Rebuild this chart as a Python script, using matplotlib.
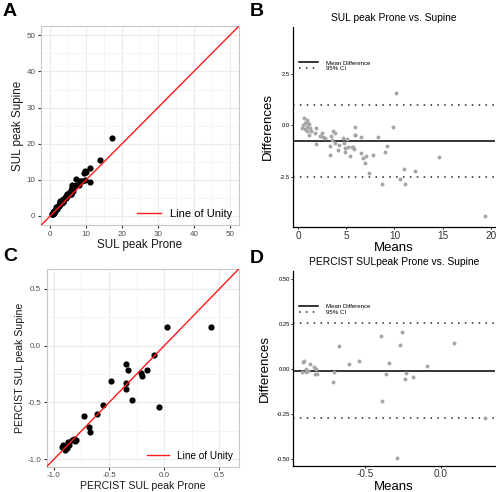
import numpy as np
import matplotlib
matplotlib.use('Agg')
import matplotlib.pyplot as plt
from matplotlib.lines import Line2D

plt.rcParams['font.family'] = ['Liberation Sans', 'DejaVu Sans']
plt.rcParams['axes.unicode_minus'] = False

# panel A - SUL peak, prone vs supine
sul_prone = [0.79, 0.53, 0.74, 0.84, 1.10, 0.38, 0.66, 0.84, 1.14, 1.14, 1.17, 1.03, 0.95,
             1.83, 1.55, 1.98, 1.45, 2.30, 2.31, 2.46, 2.80, 3.12, 3.18, 3.50, 3.64, 3.38,
             2.60, 3.54, 3.74, 4.36, 4.35, 4.29, 4.26, 4.76, 4.68, 4.63, 5.03, 5.21, 5.66,
             5.90, 5.24, 5.71, 6.29, 5.90, 5.96, 6.08, 6.36, 6.18, 7.10, 8.01, 7.26, 8.37,
             8.71, 9.79, 10.95, 9.25, 9.94, 9.61, 10.98, 13.90, 17.21]
sul_supine = [0.45, 0.51, 0.64, 0.90, 0.97, 0.52, 0.86, 1.10, 1.28, 1.08, 1.45, 0.77, 1.40,
              1.97, 1.91, 2.52, 2.35, 2.68, 2.89, 3.08, 3.79, 3.66, 3.89, 3.76, 3.99, 4.25,
              4.04, 4.76, 4.70, 4.98, 5.22, 5.39, 5.57, 5.43, 5.71, 6.10, 6.06, 6.27, 6.11,
              6.00, 6.39, 6.19, 6.85, 7.25, 7.55, 7.91, 7.83, 8.50, 8.54, 8.59, 10.13, 9.64,
              9.69, 9.87, 9.40, 11.85, 12.06, 12.48, 13.19, 15.44, 21.62]

# panel B - Bland-Altman for SUL peak
sul_means = [0.62, 0.52, 0.69, 0.87, 1.04, 0.45, 0.76, 0.97, 1.21, 1.11, 1.31, 0.90, 1.18,
             1.90, 1.73, 2.25, 1.90, 2.49, 2.60, 2.77, 3.29, 3.39, 3.53, 3.63, 3.81, 3.81,
             3.32, 4.15, 4.22, 4.67, 4.78, 4.84, 4.91, 5.09, 5.19, 5.36, 5.54, 5.74, 5.88,
             5.95, 5.81, 5.95, 6.57, 6.57, 6.75, 6.99, 7.09, 7.34, 7.82, 8.30, 8.69, 9.00,
             9.20, 9.83, 10.17, 10.55, 11.00, 11.04, 12.08, 14.67, 19.41]
sul_diffs = [0.34, 0.02, 0.10, -0.06, 0.13, -0.14, -0.19, -0.26, -0.14, 0.06, -0.27, 0.26, -0.45,
             -0.14, -0.35, -0.54, -0.90, -0.38, -0.58, -0.61, -0.99, -0.54, -0.71, -0.26, -0.35, -0.87,
             -1.44, -1.22, -0.96, -0.62, -0.87, -1.10, -1.31, -0.67, -1.03, -1.47, -1.03, -1.06, -0.45,
             -0.10, -1.15, -0.48, -0.56, -1.35, -1.59, -1.83, -1.47, -2.32, -1.44, -0.58, -2.87, -1.27,
             -0.98, -0.08, 1.55, -2.60, -2.12, -2.87, -2.21, -1.54, -4.41]
sul_mean_diff = -0.77
sul_limits = [0.98, -2.52]

# panel C - PERCIST SUL peak
percist_prone = [0.022, 0.422, -0.093, -0.346, -0.331, -0.159, -0.213, -0.200, -0.482, -0.349,
                 -0.343, -0.295, -0.045, -0.554, -0.611, -0.729, -0.684, -0.669,
                 -0.926, -0.921, -0.901, -0.879, -0.887, -0.866, -0.873, -0.837, -0.819, -0.811, -0.798]
percist_supine = [0.160, 0.160, -0.086, -0.160, -0.210, -0.213, -0.243, -0.266, -0.313, -0.328,
                  -0.381, -0.482, -0.538, -0.523, -0.603, -0.618, -0.718, -0.757,
                  -0.891, -0.878, -0.919, -0.897, -0.889, -0.877, -0.847, -0.829, -0.821, -0.839, -0.826]

# panel D - Bland-Altman for PERCIST
percist_means = [-0.908, -0.899, -0.910, -0.888, -0.888, -0.871, -0.860, -0.833, -0.820, -0.825,
                 -0.812, -0.707, -0.700, -0.667, -0.601, -0.535, -0.395, -0.386, -0.358, -0.338,
                 -0.268, -0.253, -0.226, -0.235, -0.182, -0.088, 0.089, 0.292, -0.290]
percist_diffs = [0.035, 0.043, -0.018, -0.018, -0.002, -0.011, 0.026, 0.008, -0.002, -0.028,
                 -0.028, -0.076, -0.018, 0.128, 0.024, 0.043, 0.180, -0.181, -0.029, 0.030,
                 0.132, 0.202, -0.026, -0.059, -0.048, 0.015, 0.141, -0.272, -0.494]
percist_mean_diff = -0.01
percist_limits = [0.252, -0.272]

W, H = 496, 492
fig = plt.figure(figsize=(W / 100, H / 100), dpi=100)


def box(x0, y0, x1, y1):
    return [x0 / W, 1 - y1 / H, (x1 - x0) / W, (y1 - y0) / H]


def scatter_panel(ax, x, y, lim, ticks, minor, labels, xlabel, ylabel, lsize):
    ax.set_xlim(lim)
    ax.set_ylim(lim)
    ax.set_xticks(ticks)
    ax.set_yticks(ticks)
    ax.set_xticklabels(labels)
    ax.set_yticklabels(labels)
    ax.set_xticks(minor, minor=True)
    ax.set_yticks(minor, minor=True)
    ax.tick_params(which='minor', length=0)
    ax.tick_params(which='major', length=2.5, width=0.8, color='#333333',
                   labelsize=5.8, labelcolor='#4d4d4d', pad=1.5)
    ax.grid(True, which='major', color='#ebebeb', linewidth=0.8)
    ax.grid(True, which='minor', color='#f2f2f2', linewidth=0.5)
    ax.set_axisbelow(True)
    for s in ax.spines.values():
        s.set_color('#c8c8c8')
        s.set_linewidth(0.8)
    ax.scatter(x, y, s=20, color='black', zorder=3, linewidths=0)
    ax.axline((0, 0), slope=1, color='#ff1a1a', linewidth=1.0, zorder=4, label='Line of Unity')
    ax.legend(loc='lower right', frameon=False, fontsize=lsize, handlelength=2.2,
              borderaxespad=0.2, handletextpad=0.8)
    ax.set_xlabel(xlabel, fontsize=lsize + 0.4, color='#1a1a1a', labelpad=1)
    ax.set_ylabel(ylabel, fontsize=lsize + 0.4, color='#1a1a1a', labelpad=2)


def ba_panel(ax, x, y, mean_diff, limits, xlim, ylim, xticks, yticks, ylabels, title):
    ax.scatter(x, y, s=8, color='#a6a6a6', linewidths=0, zorder=3)
    ax.axhline(mean_diff, color='black', linewidth=1.1)
    for v in limits:
        ax.axhline(v, color='#222222', linewidth=1.1, linestyle=(0, (1, 3.5)))
    ax.set_xlim(xlim)
    ax.set_ylim(ylim)
    ax.set_xticks(xticks)
    ax.set_yticks(yticks)
    ax.set_yticklabels(ylabels)
    ax.spines['top'].set_visible(False)
    ax.spines['right'].set_visible(False)
    for s in ('left', 'bottom'):
        ax.spines[s].set_linewidth(0.9)
    ax.tick_params(axis='y', length=1.5, width=0.6, labelsize=4.2, pad=1)
    ax.tick_params(axis='x', length=1.5, width=0.6, labelsize=7.2, pad=1, labelcolor='#333333')
    ax.set_xlabel('Means', fontsize=9.5, labelpad=1)
    ax.set_ylabel('Differences', fontsize=9.5, labelpad=4)
    ax.set_title(title, fontsize=7.4, pad=4)
    handles = [Line2D([], [], color='black', linewidth=1.1),
               Line2D([], [], color='#222222', linewidth=1.1, linestyle=(0, (1, 3.5)))]
    ax.legend(handles, ['Mean Difference', '95% CI'], loc='upper left',
              bbox_to_anchor=(0.0, 0.86), frameon=False, fontsize=4.4,
              handlelength=3.2, handletextpad=1.2, labelspacing=0.1)


axA = fig.add_axes(box(41, 26, 239, 225.3))
scatter_panel(axA, sul_prone, sul_supine, (-2.6, 52.6), [0, 10, 20, 30, 40, 50],
              [5, 15, 25, 35, 45], ['0', '10', '20', '30', '40', '50'],
              'SUL peak Prone', 'SUL peak Supine', 8.0)

axC = fig.add_axes(box(46.7, 268.7, 239, 466.7))
scatter_panel(axC, percist_prone, percist_supine, (-1.065, 0.677), [-1.0, -0.5, 0.0, 0.5],
              [-0.75, -0.25, 0.25], ['-1.0', '-0.5', '0.0', '0.5'],
              'PERCIST SUL peak Prone', 'PERCIST SUL peak Supine', 7.2)

axB = fig.add_axes(box(293.3, 26.7, 494.7, 227.3))
ba_panel(axB, sul_means, sul_diffs, sul_mean_diff, sul_limits, (-0.5, 20.4), (-4.95, 4.79),
         [0, 5, 10, 15, 20], [-2.5, 0.0, 2.5], ['-2.5', '0.0', '2.5'],
         'SUL peak Prone vs. Supine')

axD = fig.add_axes(box(293.3, 271, 494.7, 466))
ba_panel(axD, percist_means, percist_diffs, percist_mean_diff, percist_limits,
         (-0.97, 0.355), (-0.54, 0.543), [-0.5, 0.0], [-0.5, -0.25, 0.0, 0.25, 0.5],
         ['-0.50', '-0.25', '0.00', '0.25', '0.50'],
         'PERCIST SULpeak Prone vs. Supine')

for letter, x, y in [('A', 3, 3), ('B', 250, 3), ('C', 3, 248), ('D', 250, 250)]:
    fig.text(x / W, 1 - y / H, letter, fontsize=14, fontweight='bold', va='top', ha='left')

fig.savefig('out.png', dpi=100)
